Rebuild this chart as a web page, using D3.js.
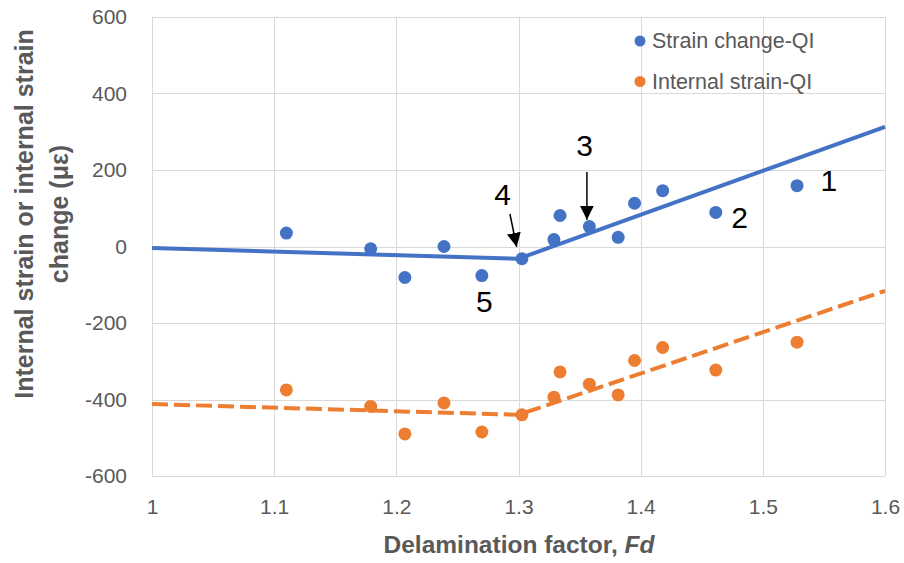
<!DOCTYPE html>
<html>
<head>
<meta charset="utf-8">
<script src="https://cdn.jsdelivr.net/npm/d3@7"></script>
<style>
  html, body { margin: 0; padding: 0; background: #fff; }
  svg { display: block; font-family: "Liberation Sans", Arial, sans-serif; }
</style>
</head>
<body>
<svg id="chart" width="904" height="563"></svg>
<script>
// Delamination factor for each specimen
const delaminationFactor = [1.11, 1.179, 1.207, 1.239, 1.27, 1.3028, 1.329, 1.334, 1.358, 1.3816, 1.395, 1.418, 1.4615, 1.528];
// Measured strains (µε)
const strainChange   = [35, -6, -81, 0, -76, -32, 18, 81, 52, 24, 113, 146, 89, 159];
const internalStrain = [-375, -418, -490, -409, -485, -440, -394, -328, -360, -388, -298, -264, -323, -250];

// Bilinear trend lines: [Fd, strain] vertices
const strainChangeTrend   = [[1, -4], [1.3, -32], [1.6, 313]];
const internalStrainTrend = [[1, -412], [1.3, -440], [1.6, -116]];

// Axis ticks
const xTicks = [1, 1.1, 1.2, 1.3, 1.4, 1.5, 1.6];
const yTicks = [-600, -400, -200, 0, 200, 400, 600];

const seriesNames = ["Strain change-QI", "Internal strain-QI"];
const seriesColors = ["#4472C4", "#ED7D31"];

// Specimen labels and arrows, in data coordinates
const specimenLabels = [
  { text: "1", fd: 1.554, v: 173 },
  { text: "2", fd: 1.481, v: 77 },
  { text: "3", fd: 1.354, v: 264 },
  { text: "4", fd: 1.287, v: 135 },
  { text: "5", fd: 1.272, v: -145 }
];
const specimenArrows = [
  { from: [1.356, 195], to: [1.356, 70] },
  { from: [1.293, 85],  to: [1.2985, -1] }
];

const svg = d3.select("#chart");
const plot = { left: 152, right: 885, top: 17, bottom: 476 };

const x = d3.scaleLinear().domain([1, 1.6]).range([plot.left, plot.right]);
const y = d3.scaleLinear().domain([-600, 600]).range([plot.bottom, plot.top]);

const gridColor = "#D9D9D9";
const textColor = "#595959";

// Gridlines
const grid = svg.append("g");
grid.selectAll("line.h").data(yTicks).join("line")
  .attr("x1", plot.left).attr("x2", plot.right)
  .attr("y1", d => Math.round(y(d)) + 0.5).attr("y2", d => Math.round(y(d)) + 0.5)
  .attr("stroke", gridColor).attr("stroke-width", 1);
grid.selectAll("line.v").data(xTicks).join("line")
  .attr("y1", plot.top).attr("y2", plot.bottom)
  .attr("x1", d => Math.round(x(d)) + 0.5).attr("x2", d => Math.round(x(d)) + 0.5)
  .attr("stroke", gridColor).attr("stroke-width", 1);

// Axes (labels only)
const xAxis = svg.append("g")
  .attr("transform", `translate(0,${plot.bottom})`)
  .call(d3.axisBottom(x).tickValues(xTicks).tickFormat(d3.format("")).tickSize(0).tickPadding(23));
const yAxis = svg.append("g")
  .attr("transform", `translate(${plot.left},0)`)
  .call(d3.axisLeft(y).tickValues(yTicks).tickFormat(d => d < 0 ? "-" + Math.abs(d) : d).tickSize(0).tickPadding(25));
[xAxis, yAxis].forEach(a => {
  a.select(".domain").remove();
  a.selectAll("text")
    .attr("fill", textColor)
    .style("font-family", '"Liberation Sans", Arial, sans-serif')
    .style("font-size", "21px");
});

// Trend lines
const line = d3.line().x(d => x(d[0])).y(d => y(d[1]));
svg.append("path").datum(strainChangeTrend)
  .attr("d", line).attr("fill", "none")
  .attr("stroke", seriesColors[0]).attr("stroke-width", 4);
svg.append("path").datum(internalStrainTrend)
  .attr("d", line).attr("fill", "none")
  .attr("stroke", seriesColors[1]).attr("stroke-width", 4)
  .attr("stroke-dasharray", "16 6");

// Data points
const points = [strainChange, internalStrain];
points.forEach((vals, i) => {
  svg.append("g").selectAll("circle")
    .data(vals.map((v, j) => [delaminationFactor[j], v]))
    .join("circle")
    .attr("cx", d => x(d[0])).attr("cy", d => y(d[1]))
    .attr("r", 6.5)
    .attr("fill", seriesColors[i]);
});

// Specimen labels and arrows
const defs = svg.append("defs");
defs.append("marker")
  .attr("id", "arrowHead")
  .attr("viewBox", "0 0 10 10")
  .attr("refX", 10).attr("refY", 5)
  .attr("markerUnits", "userSpaceOnUse")
  .attr("markerWidth", 14).attr("markerHeight", 14)
  .attr("orient", "auto")
  .append("path").attr("d", "M0,0 L10,5 L0,10 Z").attr("fill", "#000");

svg.append("g").selectAll("line")
  .data(specimenArrows).join("line")
  .attr("x1", d => x(d.from[0])).attr("y1", d => y(d.from[1]))
  .attr("x2", d => x(d.to[0])).attr("y2", d => y(d.to[1]))
  .attr("stroke", "#000").attr("stroke-width", 1.5)
  .attr("marker-end", "url(#arrowHead)");

svg.append("g").selectAll("text")
  .data(specimenLabels).join("text")
  .attr("x", d => x(d.fd)).attr("y", d => y(d.v))
  .attr("text-anchor", "middle")
  .attr("dominant-baseline", "central")
  .attr("fill", "#000")
  .style("font-size", "30px")
  .text(d => d.text);

// Legend
const legend = svg.append("g").attr("transform", "translate(640,41)");
seriesNames.forEach((name, i) => {
  const row = legend.append("g").attr("transform", `translate(0,${i * 40.5})`);
  row.append("circle").attr("r", 5.5).attr("fill", seriesColors[i]);
  row.append("text").attr("x", 12).attr("y", 0)
    .attr("dominant-baseline", "central")
    .attr("fill", textColor)
    .style("font-size", "21.5px")
    .text(name);
});

// Axis titles
const xTitle = svg.append("text")
  .attr("x", 519).attr("y", 553)
  .attr("text-anchor", "middle")
  .attr("fill", textColor)
  .style("font-size", "24.5px").style("font-weight", "bold");
xTitle.append("tspan").text("Delamination factor, ");
xTitle.append("tspan").style("font-style", "italic").text("Fd");

const yTitle = svg.append("text")
  .attr("transform", "translate(0,214) rotate(-90)")
  .attr("text-anchor", "middle")
  .attr("fill", textColor)
  .style("font-size", "25px").style("font-weight", "bold");
yTitle.append("tspan").attr("x", 0).attr("y", 33).text("Internal strain or internal strain");
yTitle.append("tspan").attr("x", 0).attr("y", 68).text("change (\u03BC\u03B5)");
</script>
</body>
</html>
